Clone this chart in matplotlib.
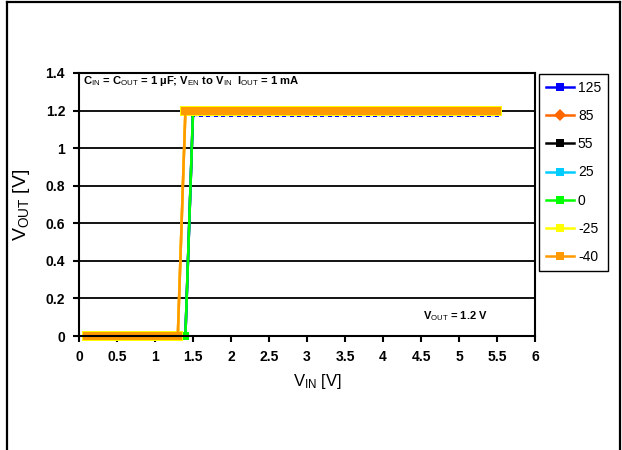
import matplotlib
matplotlib.use("Agg")
import matplotlib.pyplot as plt
from matplotlib.lines import Line2D

plt.rcParams['font.family'] = ['Liberation Sans', 'DejaVu Sans']
plt.rcParams['mathtext.fontset'] = 'custom'
plt.rcParams['mathtext.rm'] = 'Liberation Sans'
plt.rcParams['mathtext.bf'] = 'Liberation Sans:bold'
plt.rcParams['mathtext.default'] = 'regular'

# ---- data ----
x_vin = [0.1, 0.2, 0.3, 0.4, 0.5, 0.6, 0.7, 0.8, 0.9, 1.0,
         1.1, 1.2, 1.3, 1.4, 1.5, 1.6, 1.7, 1.8, 1.9, 2.0,
         2.1, 2.2, 2.3, 2.4, 2.5, 2.6, 2.7, 2.8, 2.9, 3.0,
         3.1, 3.2, 3.3, 3.4, 3.5, 3.6, 3.7, 3.8, 3.9, 4.0,
         4.1, 4.2, 4.3, 4.4, 4.5, 4.6, 4.7, 4.8, 4.9, 5.0,
         5.1, 5.2, 5.3, 5.4, 5.5]

y_125 = [0, 0, 0, 0, 0, 0, 0, 0, 0, 0,
         0, 0, 0, 0, 1.177, 1.177, 1.177, 1.177, 1.177, 1.177,
         1.177, 1.177, 1.177, 1.177, 1.177, 1.177, 1.177, 1.177, 1.177, 1.177,
         1.177, 1.177, 1.177, 1.177, 1.177, 1.177, 1.177, 1.177, 1.177, 1.177,
         1.177, 1.177, 1.177, 1.177, 1.177, 1.177, 1.177, 1.177, 1.177, 1.177,
         1.177, 1.177, 1.177, 1.177, 1.177]
y_85 = [0, 0, 0, 0, 0, 0, 0, 0, 0, 0,
        0, 0, 0, 1.2, 1.2, 1.2, 1.2, 1.2, 1.2, 1.2,
        1.2, 1.2, 1.2, 1.2, 1.2, 1.2, 1.2, 1.2, 1.2, 1.2,
        1.2, 1.2, 1.2, 1.2, 1.2, 1.2, 1.2, 1.2, 1.2, 1.2,
        1.2, 1.2, 1.2, 1.2, 1.2, 1.2, 1.2, 1.2, 1.2, 1.2,
        1.2, 1.2, 1.2, 1.2, 1.2]
y_55 = [0, 0, 0, 0, 0, 0, 0, 0, 0, 0,
        0, 0, 0, 0, 1.193, 1.193, 1.193, 1.193, 1.193, 1.193,
        1.193, 1.193, 1.193, 1.193, 1.193, 1.193, 1.193, 1.193, 1.193, 1.193,
        1.193, 1.193, 1.193, 1.193, 1.193, 1.193, 1.193, 1.193, 1.193, 1.193,
        1.193, 1.193, 1.193, 1.193, 1.193, 1.193, 1.193, 1.193, 1.193, 1.193,
        1.193, 1.193, 1.193, 1.193, 1.193]
y_25 = [0, 0, 0, 0, 0, 0, 0, 0, 0, 0,
        0, 0, 0, 0, 1.193, 1.193, 1.193, 1.193, 1.193, 1.193,
        1.193, 1.193, 1.193, 1.193, 1.193, 1.193, 1.193, 1.193, 1.193, 1.193,
        1.193, 1.193, 1.193, 1.193, 1.193, 1.193, 1.193, 1.193, 1.193, 1.193,
        1.193, 1.193, 1.193, 1.193, 1.193, 1.193, 1.193, 1.193, 1.193, 1.193,
        1.193, 1.193, 1.193, 1.193, 1.193]
y_0 = [0, 0, 0, 0, 0, 0, 0, 0, 0, 0,
       0, 0, 0, 0, 1.193, 1.193, 1.193, 1.193, 1.193, 1.193,
       1.193, 1.193, 1.193, 1.193, 1.193, 1.193, 1.193, 1.193, 1.193, 1.193,
       1.193, 1.193, 1.193, 1.193, 1.193, 1.193, 1.193, 1.193, 1.193, 1.193,
       1.193, 1.193, 1.193, 1.193, 1.193, 1.193, 1.193, 1.193, 1.193, 1.193,
       1.193, 1.193, 1.193, 1.193, 1.193]
y_m25 = [0, 0, 0, 0, 0, 0, 0, 0, 0, 0,
         0, 0, 0, 1.2, 1.2, 1.2, 1.2, 1.2, 1.2, 1.2,
         1.2, 1.2, 1.2, 1.2, 1.2, 1.2, 1.2, 1.2, 1.2, 1.2,
         1.2, 1.2, 1.2, 1.2, 1.2, 1.2, 1.2, 1.2, 1.2, 1.2,
         1.2, 1.2, 1.2, 1.2, 1.2, 1.2, 1.2, 1.2, 1.2, 1.2,
         1.2, 1.2, 1.2, 1.2, 1.2]
y_m40 = [0, 0, 0, 0, 0, 0, 0, 0, 0, 0,
         0, 0, 0, 1.2, 1.2, 1.2, 1.2, 1.2, 1.2, 1.2,
         1.2, 1.2, 1.2, 1.2, 1.2, 1.2, 1.2, 1.2, 1.2, 1.2,
         1.2, 1.2, 1.2, 1.2, 1.2, 1.2, 1.2, 1.2, 1.2, 1.2,
         1.2, 1.2, 1.2, 1.2, 1.2, 1.2, 1.2, 1.2, 1.2, 1.2,
         1.2, 1.2, 1.2, 1.2, 1.2]

labels = ['125', '85', '55', '25', '0', '-25', '-40']
series = [y_125, y_85, y_55, y_25, y_0, y_m25, y_m40]
colors = ['#0000FF', '#FF6600', '#000000', '#00CCFF', '#00FF00', '#FFFF00', '#FF9900']
markers = ['s', 'D', 's', 's', 's', 's', 's']
msizes = [3.5, 3, 5, 5, 6.2, 6.8, 5.4]

x_ticks = [0, 0.5, 1, 1.5, 2, 2.5, 3, 3.5, 4, 4.5, 5, 5.5, 6]
y_ticks = [0, 0.2, 0.4, 0.6, 0.8, 1, 1.2, 1.4]

fig = plt.figure(figsize=(6.22, 4.5), dpi=100)
ax = fig.add_axes([79/622, 1-336/450, (535-79)/622, (336-73)/450])

for ys, lab, c, m, ms in zip(series, labels, colors, markers, msizes):
    ax.plot(x_vin, ys, color=c, marker=m, markersize=ms, markeredgewidth=0,
            linewidth=1.8, label=lab, clip_on=False)

ax.set_xlim(0, 6)
ax.set_ylim(0, 1.4)
ax.set_xticks(x_ticks)
ax.set_xticklabels([f'{v:g}' for v in x_ticks])
ax.set_yticks(y_ticks)
ax.set_yticklabels([f'{v:g}' for v in y_ticks])
for t in ax.get_xticklabels() + ax.get_yticklabels():
    t.set_fontweight('bold')
ax.tick_params(axis='both', labelsize=10, direction='out', length=4, width=1.5, pad=6)
ax.yaxis.grid(True, color='black', linewidth=1.3)
ax.set_axisbelow(True)
for s in ax.spines.values():
    s.set_linewidth(1.5)
    s.set_color('black')

ax.set_xlabel(r'V$_{\mathrm{IN}}$ [V]', fontsize=12, labelpad=8)
ax.xaxis.set_label_coords((318-79)/456, -0.135)
ax.set_ylabel(r'V$_{\mathrm{OUT}}$ [V]', fontsize=14, labelpad=10)

ax.text(0.008, 0.97, r'C$_{\mathrm{IN}}$ = C$_{\mathrm{OUT}}$ = 1 µF; V$_{\mathrm{EN}}$ to V$_{\mathrm{IN}}$  I$_{\mathrm{OUT}}$ = 1 mA',
        transform=ax.transAxes, fontsize=8.1, fontweight='bold', va='center', ha='left')
ax.text(4.95, 0.106, r'V$_{\mathrm{OUT}}$ = 1.2 V', fontsize=8, fontweight='bold',
        va='center', ha='center')

leg = fig.legend(loc='upper left', bbox_to_anchor=(539/622, 1-74/450),
                 bbox_transform=fig.transFigure, fontsize=10, frameon=True,
                 fancybox=False, edgecolor='black', framealpha=1,
                 handlelength=2.0, labelspacing=1.02, borderaxespad=0,
                 borderpad=0.5, handletextpad=0.3)
leg.get_frame().set_linewidth(1.0)
for h in leg.legend_handles:
    h.set_markersize(6)

# outer frame lines
fig.add_artist(Line2D([7/622, 620/622], [1-2/450, 1-2/450], transform=fig.transFigure, color='black', linewidth=1.6))
fig.add_artist(Line2D([7/622, 7/622], [0, 1-2/450], transform=fig.transFigure, color='black', linewidth=1.6))
fig.add_artist(Line2D([620/622, 620/622], [0, 1-2/450], transform=fig.transFigure, color='black', linewidth=1.6))

fig.savefig('out.png', dpi=100)
